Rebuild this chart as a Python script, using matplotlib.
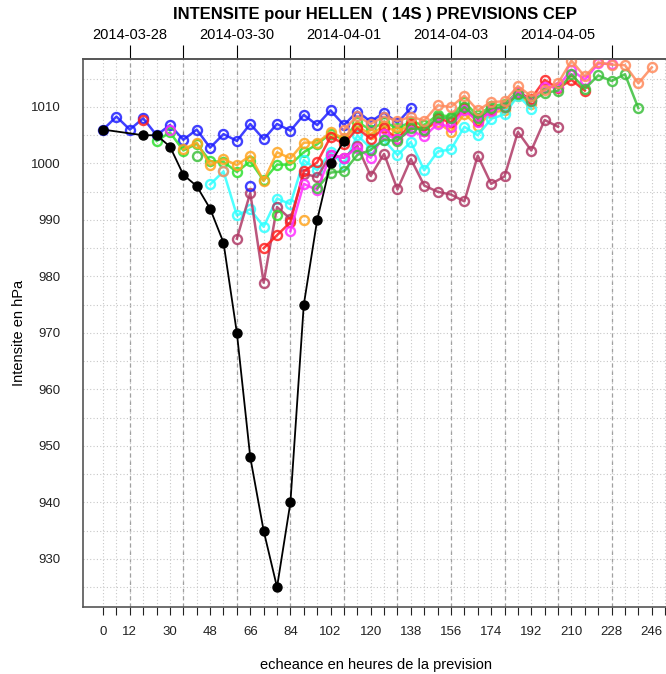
import numpy as np
import matplotlib
matplotlib.use("Agg")
import matplotlib.pyplot as plt

plt.rcParams["font.family"] = ["Liberation Sans", "DejaVu Sans"]

# analysed track (hours after 2014-03-27 12 UTC, pressure in hPa)
black_hours = [0, 18, 24, 30, 36, 42, 48, 54, 60, 66, 72, 78, 84, 90, 96, 102, 108]
black_pres = [1006, 1005, 1005, 1003, 998, 996, 992, 986, 970, 948, 935, 925,
              940, 975, 990, 1000, 1004]

# forecast runs, one value every 6h from the run start
run_starts = [0, 18, 24, 30, 36, 42, 48, 54, 60, 66, 72, 78, 84, 90, 96, 108]
run_colors = ["#1f1fff", "#ff1f1f", "#2fe02f", "#ff2fff", "#ffa51f", "#3cc03c",
              "#2fffff", "#ff8a5c", "#b03a66", "#1f1fff", "#ff1f1f", "#2fe02f",
              "#ff2fff", "#ffa51f", "#3cc03c", "#ff8a5c"]
run_00 = [1006, 1008.3, 1006, 1008, 1005, 1006.8, 1004.2, 1006, 1002.8, 1005.2,
          1004, 1007, 1004.3, 1007, 1005.8, 1008.6, 1006.8, 1009.4, 1006.8,
          1009.2, 1007.4, 1009, 1007.2, 1009.8]
run_18 = [1007.7]
run_24 = [1004, 1005.5, 1002.3, 1003.5, 1000.4, 1000.3, 998.5, 1000.4, 997,
          999.8, 999.8, 1002, 1003.4, 1005.3, 1004.2, 1007.4, 1005.9, 1007.4,
          1006.2, 1007.4, 1006.8, 1008.6, 1008.3, 1010.8, 1008.5, 1010.2,
          1010.5, 1012.7, 1011.2]
run_30 = [1005.9]
run_36 = [1002.5, 1003.7, 999.7, 1000.8, 999.7, 1001.4, 996.9, 1002, 1000.9,
          1003.7, 1003.7, 1005.5, 1004.5, 1006.5, 1005.2, 1006.6, 1005.6, 1007,
          1006, 1007.3, 1005.6, 1008.8, 1006.6, 1009, 1009.4, 1012, 1010.5]
run_42 = [1001.4]
run_48 = [996.3, 998.6, 990.8, 991.9, 988.8, 993.8, 992.8, 1000.6, 998.8, 1002,
          999.8, 1005, 1002.7, 1004.1, 1001.5, 1003.8, 998.8, 1002.1, 1002.5,
          1006.5, 1005, 1007.9, 1008.7, 1012, 1009.7]
run_54 = [998.6]
run_60 = [986.7, 994.8, 978.9, 992.3, 990.2, 998.2, 997.6, 1001.5, 1001, 1003.1,
          997.8, 1001.7, 995.4, 1000.8, 996.1, 995, 994.5, 993.3, 1001.4, 996.4,
          997.7, 1005.6, 1002.3, 1007.7, 1006.5]
run_66 = [996.1]
run_72 = [985, 987.3, 989.6, 998.6, 1000.2, 1004.7, 1003.5, 1006.2, 1004.4,
          1006.2, 1004.3, 1007, 1005.7, 1008, 1007.3, 1009.8, 1007.5, 1009.5,
          1010, 1012.5, 1011.5, 1014.8, 1013.3, 1014.8, 1012.9]
run_78 = [990.8]
run_84 = [988, 996.4, 995.3, 1001.5, 1001, 1002.8, 1001, 1005.2, 1004.3, 1005.8,
          1004.8, 1007, 1006.5, 1009.5, 1007.4, 1009.3, 1010, 1012.7, 1011,
          1013.5, 1013.6, 1016.6, 1014.8, 1017.7, 1017.6]
run_90 = [990]
run_96 = [995.6, 998.4, 998.6, 1001.5, 1002.4, 1004.2, 1004, 1006.2, 1006, 1008.2,
          1008, 1010, 1008, 1009.8, 1010, 1012.3, 1011, 1012.5, 1012.9, 1015.8,
          1013.2, 1015.6, 1014.6, 1015.8, 1009.8]
run_108 = [1006, 1008.4, 1007, 1008.3, 1007.5, 1008.3, 1007.6, 1010.3, 1010, 1012,
           1009.4, 1010.9, 1011, 1013.7, 1011.9, 1013, 1014.2, 1018.2, 1015.4,
           1017.9, 1017.5, 1017.4, 1014.2, 1017]
runs = [run_00, run_18, run_24, run_30, run_36, run_42, run_48, run_54, run_60,
        run_66, run_72, run_78, run_84, run_90, run_96, run_108]

bottom_ticks = [0, 12, 30, 48, 66, 84, 102, 120, 138, 156, 174, 192, 210, 228, 246]
date_ticks = [12, 36, 60, 84, 108, 132, 156, 180, 204, 228]
date_labels = ["2014-03-28", "", "2014-03-30", "", "2014-04-01", "",
               "2014-04-03", "", "2014-04-05", ""]
y_ticks = [930, 940, 950, 960, 970, 980, 990, 1000, 1010]

fig = plt.figure(figsize=(6.66, 6.74), dpi=100)
ax = fig.add_axes([0.1246, 0.0994, 0.8754, 0.8131])
ax.set_xlim(-9, 252.4)
ax.set_ylim(921.5, 1018.5)

# background grid: light dots every 6h / 5 hPa, darker dashes at 00 UTC
for h in np.arange(0, 253, 6):
    ax.axvline(h, color="#c8c8c8", lw=0.8, ls=(0, (1, 2)), zorder=0)
for h in date_ticks:
    ax.axvline(h, color="#a0a0a0", lw=0.9, ls=(0, (3, 3)), zorder=0)
for p in np.arange(925, 1019, 5):
    ax.axhline(p, color="#c8c8c8", lw=0.8, ls=(0, (1, 2)), zorder=0)

for start, color, vals in zip(run_starts, run_colors, runs):
    hours = start + 6 * np.arange(len(vals))
    ax.plot(hours, vals, "-o", color=color, lw=1.8, ms=6.5, mfc="none", mew=1.7,
            alpha=0.85, zorder=2)

ax.plot(black_hours, black_pres, "-o", color="black", lw=1.3, ms=6.5, zorder=3)

ax.set_xticks(bottom_ticks)
ax.set_xticks(np.arange(0, 253, 6), minor=True)
ax.tick_params(axis="x", which="both", length=6, width=0.8, pad=8,
               labelsize=9.5, colors="#222222")
ax.set_yticks(y_ticks)
ax.tick_params(axis="y", which="both", length=0, pad=16, labelsize=9.5,
               colors="#222222")

top = ax.secondary_xaxis("top")
top.set_xticks(date_ticks)
top.set_xticklabels(date_labels)
top.tick_params(axis="x", length=10, width=0.8, pad=2, labelsize=10.5)

for side in ["left", "bottom", "top"]:
    ax.spines[side].set_color("#555555")
    ax.spines[side].set_linewidth(1.2)
top.spines["top"].set_color("#555555")
top.spines["top"].set_linewidth(1.2)
ax.spines["right"].set_visible(False)

ax.set_xlabel("echeance en heures de la prevision", fontsize=10.5, va="center")
ax.xaxis.set_label_coords(0.503, -0.106)
ax.set_ylabel("Intensite en hPa", fontsize=10.5)
ax.yaxis.set_label_coords(-0.098, 0.5)
fig.text(0.563, 0.978, "INTENSITE pour HELLEN  ( 14S ) PREVISIONS CEP",
         ha="center", va="center", fontsize=12, fontweight="bold")

fig.savefig("out.png", dpi=100)
